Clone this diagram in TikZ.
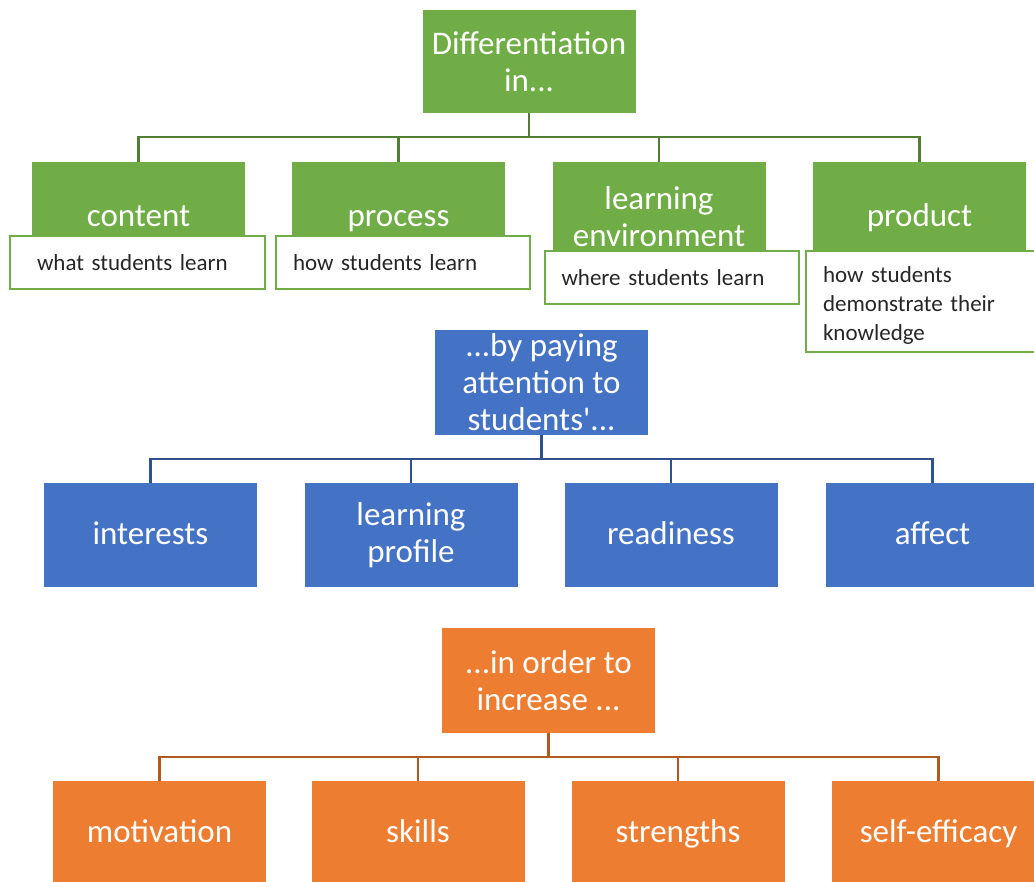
\documentclass[tikz,border=0pt]{standalone}
\usepackage{fontspec}
\setmainfont{Carlito}[Ligatures=TeXOff]
\usepackage{tikz}
\usetikzlibrary{positioning,calc}
\definecolor{leaf}{HTML}{70AD47}
\definecolor{leafdark}{HTML}{507E32}
\definecolor{ocean}{HTML}{4472C4}
\definecolor{oceandark}{HTML}{2F528F}
\definecolor{ember}{HTML}{ED7D31}
\definecolor{emberdark}{HTML}{AE5A21}
\tikzstyle{box}=[rectangle, inner sep=0pt, text=white, align=center,
    minimum width=213pt, minimum height=104pt,
    font=\fontsize{33pt}{37pt}\selectfont]
\tikzstyle{oneline}=[text height=22pt, text depth=3pt]
\tikzstyle{greenbox}=[box, fill=leaf]
\tikzstyle{bluebox}=[box, fill=ocean]
\tikzstyle{orangebox}=[box, fill=ember]
\tikzstyle{note}=[rectangle, draw=leaf, line width=2pt, fill=white,
    text=black!85, align=left, text width=220pt, inner xsep=17pt, inner ysep=0pt,
    minimum height=53pt, font=\fontsize{23pt}{29pt}\selectfont]
\tikzstyle{link}=[line width=2.4pt]

\begin{document}
\begin{tikzpicture}[x=1pt,y=-1pt]

    \def\busdrop{24}

    \clip (0,0) rectangle (1034,882);

    % differentiation in ...
    \node[greenbox, minimum height=103pt] (diff) at (529,61.5) {Differentiation\\in...};

    \node[greenbox, oneline, minimum height=110pt] (content) at (138.5,217) {content};
    \node[greenbox, oneline, minimum height=110pt] (process) at (398.5,217) {process};
    \node[greenbox, minimum height=110pt] (environ) at (659,217) {learning\\environment};
    \node[greenbox, oneline, minimum height=110pt] (product) at (919.5,217) {product};

    % short notes
    \node[note, inner xsep=27pt, text width=201pt] (contentnote) at (137.5,262.5) {what students learn};
    \node[note] (processnote) at (403,262.5) {how students learn};
    \node[note] (environnote) at (671.5,278) {where students learn};
    \node[note, minimum height=101pt] (productnote) at (933,301.5)
        {\rule{0pt}{24pt}how students\\demonstrate their\\knowledge};

    \coordinate (gbus) at ($(diff.south) + (0,\busdrop)$);
    \draw[link, leafdark] (diff) -- (gbus);
    \foreach \c in {content,process,environ,product}
        \draw[link, leafdark] (gbus) -| (\c.north);

    % ... by paying attention to
    \node[bluebox, minimum height=105pt] (attn) at (541.5,382.5) {...by paying\\attention to\\students'...};

    \node[bluebox, oneline] (interests) at (150.5,535) {interests};
    \node[bluebox] (profile) at (411,535) {learning\\profile};
    \node[bluebox, oneline] (readiness) at (671,535) {readiness};
    \node[bluebox, oneline] (affect) at (932.5,535) {affect};

    \coordinate (bbus) at ($(attn.south) + (0,\busdrop)$);
    \draw[link, oceandark] (attn) -- (bbus);
    \foreach \c in {interests,profile,readiness,affect}
        \draw[link, oceandark] (bbus) -| (\c.north);

    % ... in order to increase
    \node[orangebox, minimum height=105pt] (goal) at (548.5,680.5) {...in order to\\increase ...};

    \node[orangebox, oneline] (motivation) at (159.5,833) {motivation};
    \node[orangebox, oneline] (skills) at (418,833) {skills};
    \node[orangebox, oneline] (strengths) at (678,833) {strengths};
    \node[orangebox, oneline] (selfeff) at (938.5,833) {self-efficacy};

    \coordinate (obus) at ($(goal.south) + (0,\busdrop)$);
    \draw[link, emberdark] (goal) -- (obus);
    \foreach \c in {motivation,skills,strengths,selfeff}
        \draw[link, emberdark] (obus) -| (\c.north);

\end{tikzpicture}
\end{document}
